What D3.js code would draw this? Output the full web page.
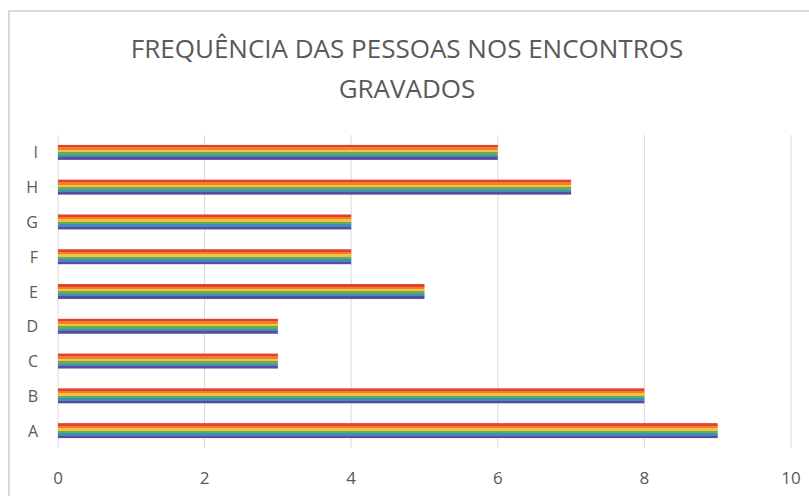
<!DOCTYPE html>
<html>
<head>
<meta charset="utf-8">
<script src="https://cdn.jsdelivr.net/npm/d3@7"></script>
<style>
  body { margin: 0; background: #fff; }
  text { font-family: "Open Sans", "Liberation Sans", sans-serif; fill: #595959; }
</style>
</head>
<body>
<div id="chart"></div>
<script>
// data
var categories = ["A", "B", "C", "D", "E", "F", "G", "H", "I"];
var values = [9, 8, 3, 3, 5, 4, 4, 7, 6];
var xTicks = [0, 2, 4, 6, 8, 10];
var titleLines = ["FREQUÊNCIA DAS PESSOAS NOS ENCONTROS", "GRAVADOS"];
var rainbow = ["#e4402b", "#f07f2c", "#f4c240", "#62ad55", "#3b8dc4", "#5a4b9c"];

var svgWidth = 809;
var svgHeight = 496;

var plot = { left: 58, right: 791, top: 135, bottom: 448 };

var svg = d3.select("#chart")
    .append("svg")
    .attr("width", svgWidth)
    .attr("height", svgHeight);

// chart border (only top and left show in the crop)
svg.append("rect")
    .attr("x", 9)
    .attr("y", 11)
    .attr("width", 820)
    .attr("height", 520)
    .attr("fill", "none")
    .attr("stroke", "#d9d9d9")
    .attr("stroke-width", 2);

// rainbow stripes as a gradient
var grad = svg.append("defs").append("linearGradient")
    .attr("id", "rainbow")
    .attr("x1", 0).attr("y1", 0).attr("x2", 0).attr("y2", 1);
rainbow.forEach(function(c, i) {
    grad.append("stop").attr("offset", i / rainbow.length).attr("stop-color", c);
    grad.append("stop").attr("offset", (i + 1) / rainbow.length).attr("stop-color", c);
});

var xScale = d3.scaleLinear()
    .domain([0, 10])
    .range([plot.left, plot.right]);

var yScale = d3.scaleBand()
    .domain(categories)
    .range([plot.bottom, plot.top])
    .paddingInner(0.57)
    .paddingOuter(0.285);

// gridlines
svg.append("g")
    .selectAll("line")
    .data(xTicks)
    .enter()
    .append("line")
        .attr("x1", d => xScale(d))
        .attr("x2", d => xScale(d))
        .attr("y1", plot.top)
        .attr("y2", plot.bottom)
        .attr("stroke", "#d9d9d9")
        .attr("stroke-width", 1);

// x tick labels
svg.append("g")
    .selectAll("text")
    .data(xTicks)
    .enter()
    .append("text")
        .attr("x", d => xScale(d))
        .attr("y", 484)
        .attr("text-anchor", "middle")
        .attr("font-size", "17px")
        .text(d => d);

// y category labels
svg.append("g")
    .selectAll("text")
    .data(categories)
    .enter()
    .append("text")
        .attr("x", 38)
        .attr("y", d => yScale(d) + yScale.bandwidth() / 2 + 6)
        .attr("text-anchor", "end")
        .attr("font-size", "16px")
        .text(d => d);

// bars
svg.append("g")
    .selectAll("rect")
    .data(categories)
    .enter()
    .append("rect")
        .attr("x", xScale(0))
        .attr("y", d => yScale(d))
        .attr("width", (d, i) => xScale(values[i]) - xScale(0))
        .attr("height", yScale.bandwidth())
        .attr("fill", "url(#rainbow)");

// title
svg.append("g")
    .selectAll("text")
    .data(titleLines)
    .enter()
    .append("text")
        .attr("x", 407)
        .attr("y", (d, i) => 58 + i * 40)
        .attr("text-anchor", "middle")
        .attr("font-size", "26px")
        .text(d => d);
</script>
</body>
</html>
